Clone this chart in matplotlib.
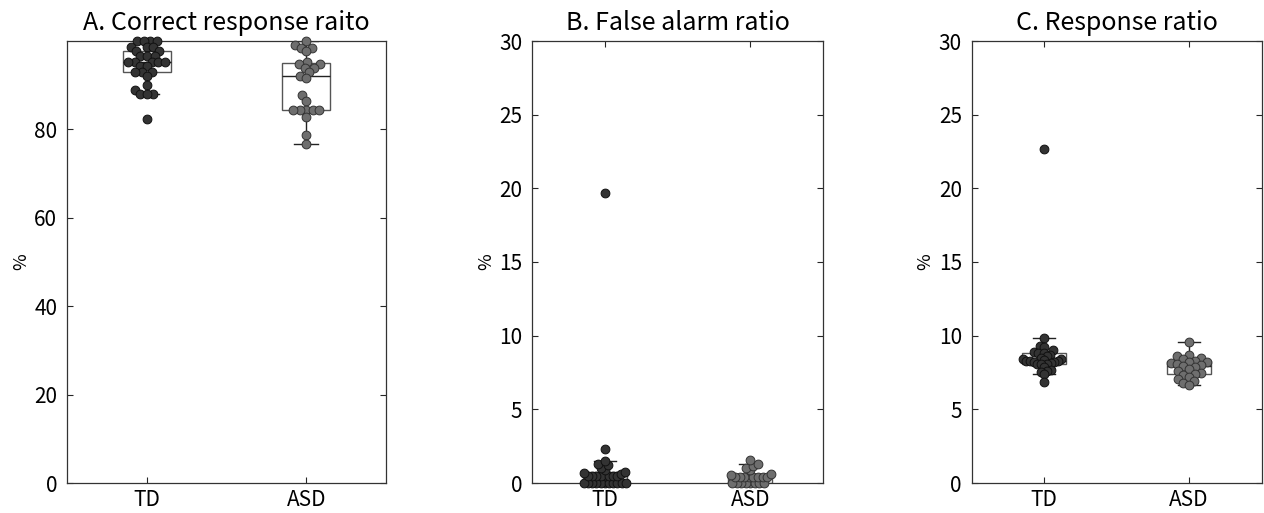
import numpy as np
import matplotlib
matplotlib.use("Agg")
import matplotlib.pyplot as plt

plt.rcParams['font.family'] = ['Noto Sans CJK JP', 'DejaVu Sans']

groups = ["TD", "ASD"]
titles = ["A. Correct response raito", "B. False alarm ratio", "C. Response ratio"]
ylims = [(0, 100), (0, 30), (0, 30)]
yticks_list = [[0, 20, 40, 60, 80], [0, 5, 10, 15, 20, 25, 30], [0, 5, 10, 15, 20, 25, 30]]

# Panel A: correct response ratio (%)
a_td = [100, 100, 100, 100, 98.7, 98.7, 98.7, 97.7, 97.7, 96.6, 96.6, 96.6,
        95.3, 95.3, 95.3, 95.3, 95.3, 94.3, 94.3, 92.9, 92.9, 92.9, 92.0,
        90.1, 89.0, 88.1, 88.1, 88.1, 82.4]
a_asd = [100, 99.0, 98.4, 98.4, 97.7, 95.3, 94.7, 94.7, 93.9, 93.9, 92.9,
         92.0, 91.6, 87.7, 86.5, 84.3, 84.3, 84.3, 84.3, 84.3, 82.8, 78.8, 76.6]
# Panel B: false alarm ratio (%)
b_td = [0, 0, 0, 0, 0, 0, 0, 0, 0, 0, 0, 0.45, 0.45, 0.45, 0.45, 0.45, 0.45,
        0.45, 0.45, 0.6, 0.7, 0.77, 0.9, 1.0, 1.2, 1.3, 1.47, 2.3, 19.7]
b_asd = [0, 0, 0, 0, 0, 0, 0, 0, 0.42, 0.42, 0.42, 0.42, 0.42, 0.42, 0.42,
         0.42, 0.54, 0.6, 0.85, 1.0, 1.18, 1.29, 1.56]
# Panel C: response ratio (%)
c_td = [22.7, 9.82, 9.3, 9.25, 9.0, 8.9, 8.8, 8.8, 8.7, 8.6, 8.5, 8.45, 8.4,
        8.35, 8.3, 8.3, 8.25, 8.2, 8.2, 8.15, 8.1, 8.06, 8.05, 7.9, 7.7, 7.6,
        7.55, 7.4, 6.88]
c_asd = [9.6, 8.69, 8.6, 8.5, 8.4, 8.3, 8.24, 8.2, 8.15, 8.1, 8.0, 7.94,
         7.85, 7.75, 7.6, 7.5, 7.4, 7.35, 7.2, 7.05, 6.9, 6.8, 6.65]

data = [(a_td, a_asd), (b_td, b_asd), (c_td, c_asd)]

fill_colors = ["#333333", "#6e6e6e"]
edge_colors = ["#111111", "#333333"]

W, H = 1264, 513
fig = plt.figure(figsize=(W / 100, H / 100), dpi=100)
axes_px = [(67, 319), (532, 291), (971.5, 290)]
top_px, bot_px = 41, 483

COLLIDE_PX = 6.5
MAX_HALF_PX = 21.0


def swarm_offsets(ypix, diam):
    order = np.argsort(ypix)
    placed = []
    offs = np.zeros(len(ypix))
    for i in order:
        y = ypix[i]
        cands = [0.0]
        for (px, py) in placed:
            dy = y - py
            if abs(dy) < diam:
                dx = np.sqrt(diam ** 2 - dy ** 2)
                cands += [px + dx, px - dx]
        cands = sorted(cands, key=lambda c: (abs(c), c))
        for c in cands:
            ok = True
            for (px, py) in placed:
                if (c - px) ** 2 + (y - py) ** 2 < (diam - 1e-6) ** 2:
                    ok = False
                    break
            if ok:
                offs[i] = c
                placed.append((c, y))
                break
    m = np.max(np.abs(offs))
    if m > MAX_HALF_PX:
        offs = offs * MAX_HALF_PX / m
    return offs


for k in range(3):
    lpx, wpx = axes_px[k]
    ax = fig.add_axes([lpx / W, 1 - bot_px / H, wpx / W, (bot_px - top_px) / H])
    ax.set_xlim(0.5, 2.5)
    ax.set_ylim(*ylims[k])
    px_per_x = wpx / 2.0
    px_per_y = (bot_px - top_px) / (ylims[k][1] - ylims[k][0])

    bp = ax.boxplot([np.array(d) for d in data[k]], positions=[1, 2], widths=0.3,
                    whis=1.5, showfliers=False, patch_artist=True, zorder=1,
                    boxprops=dict(facecolor="white", edgecolor="#555555", linewidth=1.0),
                    medianprops=dict(color="#222222", linewidth=1.0),
                    whiskerprops=dict(color="#222222", linewidth=1.0, linestyle="-"),
                    capprops=dict(color="#222222", linewidth=1.0))
    for cap in bp['caps']:
        xd = cap.get_xdata()
        c = np.mean(xd)
        cap.set_xdata([c - 0.075, c + 0.075])

    for g in range(2):
        vals = np.array(data[k][g], dtype=float)
        ypix = vals * px_per_y
        offs = swarm_offsets(ypix, COLLIDE_PX)
        xs = (g + 1) + offs / px_per_x
        ax.scatter(xs, np.clip(vals, None, ylims[k][1]), s=40, c=fill_colors[g],
                   edgecolors=edge_colors[g], linewidths=0.7, zorder=3, clip_on=False)

    ax.set_xticks([1, 2])
    ax.set_xticklabels(groups, fontsize=15)
    ax.set_yticks(yticks_list[k])
    ax.tick_params(axis='both', direction='in', length=4, width=0.8, colors="#262626",
                   labelsize=15, top=True, right=True, labelcolor="black")
    ax.tick_params(axis='y', pad=7)
    ax.tick_params(axis='x', pad=4)
    for s in ax.spines.values():
        s.set_color("#333333")
        s.set_linewidth(0.9)
    ax.set_title(titles[k], fontsize=18, pad=8)
    ax.set_ylabel("%", fontsize=13, labelpad=3)

fig.savefig("out.png", dpi=100)
